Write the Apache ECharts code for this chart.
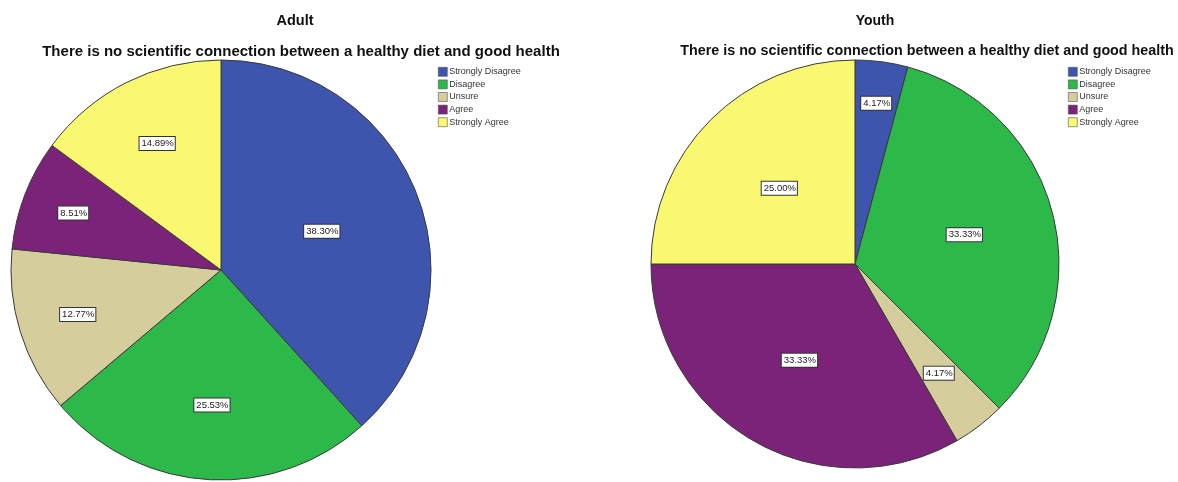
<!DOCTYPE html>
<html>
<head>
<meta charset="utf-8">
<script src="https://cdn.jsdelivr.net/npm/echarts@6/dist/echarts.min.js"></script>
<style>
  html, body { margin: 0; padding: 0; background: #ffffff; }
  #chart { width: 1178px; height: 482px; }
</style>
</head>
<body>
<div id="chart"></div>
<script>
// Response categories (legend order)
const categories = ['Strongly Disagree', 'Disagree', 'Unsure', 'Agree', 'Strongly Agree'];
// Percentage of respondents per category
const adultValues = [38.30, 25.53, 12.77, 8.51, 14.89];
const youthValues = [4.17, 33.33, 4.17, 33.33, 25.00];

const question = 'There is no scientific connection between a healthy diet and good health';
const colors = ['#3d55ad', '#2db84a', '#d6cd9c', '#7a2379', '#f9f870'];

// Where each value box sits along its slice, as a fraction of the radius
const adultLabelDepth = [0.5, 0.63, 0.7, 0.74, 0.66];
const youthLabelDepth = [0.78, 0.54, 0.66, 0.53, 0.51];

const FONT = '"Liberation Sans", Arial, sans-serif';

function buildPie(values, center, radius, depth) {
  const total = values.reduce((a, b) => a + b, 0);
  let acc = 0;
  const data = values.map((v, i) => {
    const mid = (acc + v / 2) / total * 2 * Math.PI;
    acc += v;
    const shift = (depth[i] - 0.5) * radius;
    return {
      name: categories[i],
      value: v,
      label: { offset: [shift * Math.sin(mid), -shift * Math.cos(mid)] }
    };
  });
  return {
    type: 'pie',
    center: center,
    radius: [0, radius],
    startAngle: 90,
    clockwise: true,
    animation: false,
    silent: true,
    data: data,
    itemStyle: { borderColor: '#3a3a3a', borderWidth: 1 },
    label: {
      show: true,
      position: 'inside',
      formatter: p => p.value.toFixed(2) + '%',
      fontFamily: FONT,
      fontSize: 9.5,
      color: '#222',
      backgroundColor: '#ffffff',
      borderColor: '#333',
      borderWidth: 1,
      padding: [2, 1, 1, 2]
    },
    labelLine: { show: false }
  };
}

function buildLegend(left) {
  return {
    left: left,
    top: 62,
    orient: 'vertical',
    itemWidth: 9,
    itemHeight: 9,
    itemGap: 3,
    icon: 'rect',
    data: categories,
    textStyle: { fontFamily: FONT, fontSize: 9, color: '#333', padding: [0, 0, 0, -3] },
    itemStyle: { borderColor: '#555', borderWidth: 0.6 },
    selectedMode: false
  };
}

const chart = echarts.init(document.getElementById('chart'), null, { renderer: 'canvas' });
chart.setOption({
  backgroundColor: '#ffffff',
  color: colors,
  title: [
    { text: 'Adult', left: 290, top: 8, textAlign: 'center',
      textStyle: { fontFamily: FONT, fontSize: 14.5, fontWeight: 'bold', color: '#111' } },
    { text: question, left: 296, top: 39, textAlign: 'center',
      textStyle: { fontFamily: FONT, fontSize: 15, fontWeight: 'bold', color: '#111' } },
    { text: 'Youth', left: 870, top: 9, textAlign: 'center',
      textStyle: { fontFamily: FONT, fontSize: 14, fontWeight: 'bold', color: '#111' } },
    { text: question, left: 922, top: 39, textAlign: 'center',
      textStyle: { fontFamily: FONT, fontSize: 14.3, fontWeight: 'bold', color: '#111' } }
  ],
  legend: [buildLegend(433), buildLegend(1063)],
  series: [
    buildPie(adultValues, [221, 270], 210, adultLabelDepth),
    buildPie(youthValues, [855, 264], 204, youthLabelDepth)
  ]
});
</script>
</body>
</html>
